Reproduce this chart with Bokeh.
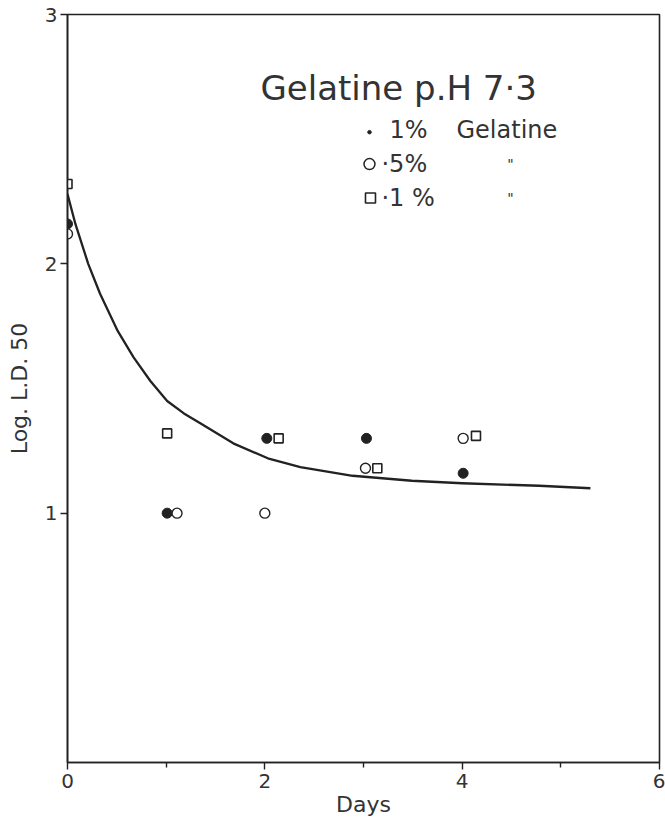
from bokeh.plotting import figure
from bokeh.models import FixedTicker, Range1d
from bokeh.core.properties import value
from bokeh.embed import file_html
from bokeh.resources import INLINE

# ---- data ----
# 1% gelatine (filled circles)
gel1_x = [0.0, 1.01, 2.02, 3.03, 4.01]
gel1_y = [2.16, 1.00, 1.30, 1.30, 1.16]
# 0.5% gelatine (open circles)
gel05_x = [0.0, 1.11, 2.00, 3.02, 4.01]
gel05_y = [2.12, 1.00, 1.00, 1.18, 1.30]
# 0.1% gelatine (open squares)
gel01_x = [0.0, 1.01, 2.14, 3.14, 4.14]
gel01_y = [2.32, 1.32, 1.30, 1.18, 1.31]
# fitted curve
curve_x = [0.0, 0.08, 0.21, 0.33, 0.51, 0.67, 0.84, 1.01, 1.18, 1.35, 1.68, 2.03, 2.36, 2.89, 3.49, 4.00, 4.78, 5.30]
curve_y = [2.28, 2.16, 2.00, 1.88, 1.73, 1.625, 1.53, 1.45, 1.40, 1.36, 1.28, 1.22, 1.185, 1.15, 1.13, 1.12, 1.11, 1.10]

x_ticks = [0, 2, 4, 6]
x_minor = [1, 3, 5]
y_ticks = [1, 2, 3]

title_text = "Gelatine p.H 7\u00b73"
legend_1 = ["1%", "Gelatine"]
legend_2 = "\u00b75%"
legend_3 = "\u00b71 %"
ditto = '"'

FONT = "DejaVu Sans"
INK = "#222222"
TXT = "#333333"

p = figure(width=665, height=819, output_backend="svg", toolbar_location=None,
           x_range=Range1d(0, 6), y_range=Range1d(0, 3))
p.min_border_left = 67
p.min_border_right = 6
p.min_border_top = 14
p.min_border_bottom = 55
p.background_fill_color = "white"
p.border_fill_color = "white"
p.outline_line_color = INK
p.outline_line_width = 1.6
p.xgrid.visible = False
p.ygrid.visible = False

xa = p.xaxis[0]
xa.ticker = FixedTicker(ticks=x_ticks, minor_ticks=x_minor)
xa.axis_label = "Days"
ya = p.yaxis[0]
ya.ticker = FixedTicker(ticks=y_ticks, minor_ticks=[])
ya.axis_label = "Log. L.D. 50"
for ax in (xa, ya):
    ax.axis_line_color = INK
    ax.axis_line_width = 1.6
    ax.major_tick_line_color = INK
    ax.major_tick_line_width = 1.4
    ax.minor_tick_line_color = INK
    ax.minor_tick_line_width = 1.4
    ax.major_tick_in = 0
    ax.major_tick_out = 7
    ax.minor_tick_in = 0
    ax.minor_tick_out = 5
    ax.major_label_text_font = FONT
    ax.major_label_text_font_size = "20px"
    ax.major_label_text_color = TXT
    ax.axis_label_text_font = FONT
    ax.axis_label_text_font_style = "normal"
    ax.axis_label_text_font_size = "22px"
    ax.axis_label_text_color = TXT
xa.major_label_standoff = 4
xa.axis_label_standoff = 1
ya.major_label_standoff = 3
ya.axis_label_standoff = 10
ya.minor_tick_out = 0

p.line(curve_x, curve_y, line_color=INK, line_width=2.3, line_join="round")
p.scatter(gel1_x, gel1_y, marker="circle", size=10, fill_color=INK, line_color=INK)
p.scatter(gel05_x, gel05_y, marker="circle", size=10, fill_color="white", line_color=INK, line_width=1.4)
p.scatter(gel01_x, gel01_y, marker="square", size=9, fill_color="white", line_color=INK, line_width=1.6)

# ---- key (title and legend, hand-placed as in the original) ----
def dx(px):
    return (px - 67) / 98.67

def dy(py):
    return (764 - py) / 250.0

p.text(x=[dx(260)], y=[dy(88)], text=[title_text], text_font=value(FONT), text_font_size="34px",
       text_color=TXT, text_align="left", text_baseline="middle")
p.scatter([dx(369)], [dy(132)], marker="circle", size=3.5, fill_color=INK, line_color=INK)
p.text(x=[dx(389), dx(456)], y=[dy(130), dy(130)], text=legend_1, text_font=value(FONT),
       text_font_size="24px", text_color=TXT, text_align="left", text_baseline="middle")
p.scatter([dx(369)], [dy(164)], marker="circle", size=11, fill_color="white", line_color=INK, line_width=1.5)
p.text(x=[dx(381)], y=[dy(164)], text=[legend_2], text_font=value(FONT),
       text_font_size="24px", text_color=TXT, text_align="left", text_baseline="middle")
p.scatter([dx(370)], [dy(198)], marker="square", size=10, fill_color="white", line_color=INK, line_width=1.6)
p.text(x=[dx(381)], y=[dy(198)], text=[legend_3], text_font=value(FONT),
       text_font_size="24px", text_color=TXT, text_align="left", text_baseline="middle")
p.text(x=[dx(510), dx(510)], y=[dy(164), dy(198)], text=[ditto, ditto], text_font=value(FONT),
       text_font_size="14px", text_color=TXT, text_align="center", text_baseline="middle")

open("out.html", "w").write(file_html(p, INLINE))
